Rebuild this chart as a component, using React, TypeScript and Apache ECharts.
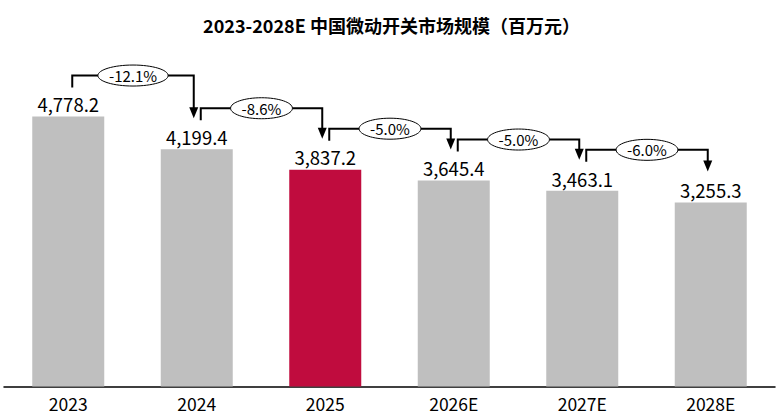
import React, { useEffect, useRef } from "react";
import * as echarts from "echarts";

const categories = ["2023", "2024", "2025", "2026E", "2027E", "2028E"];
const marketSize = [4778.2, 4199.4, 3837.2, 3645.4, 3463.1, 3255.3];
const growthLabels = ["-12.1%", "-8.6%", "-5.0%", "-5.0%", "-6.0%"];
const highlightIndex = 2;

const FONT = '"Noto Sans CJK SC", "Noto Sans", sans-serif';
const GRAY = "#BFBFBF";
const RED = "#C00C3E";

function measure(text: string, font: string): number {
  const ctx = document.createElement("canvas").getContext("2d");
  if (!ctx) return text.length * 8;
  ctx.font = font;
  return ctx.measureText(text).width;
}

export default function App() {
  const ref = useRef<HTMLDivElement>(null);

  useEffect(() => {
    if (!ref.current) return;
    const chart = echarts.init(ref.current, undefined, { renderer: "svg" });

    const arrowData = growthLabels.map((_, i) => [i, marketSize[i], i + 1, marketSize[i + 1]]);

    const option: any = {
      animation: false,
      backgroundColor: "#fff",
      title: {
        text: "2023-2028E 中国微动开关市场规模（百万元）",
        left: "center",
        top: 11,
        textStyle: { fontFamily: FONT, fontSize: 18, fontWeight: "bold", color: "#000" },
      },
      grid: { left: 4, right: 8, top: 47.5, bottom: 30.5 },
      xAxis: {
        type: "category",
        data: categories,
        axisTick: { show: false },
        axisLine: { lineStyle: { color: "#000", width: 1.5 } },
        axisLabel: { fontFamily: FONT, fontSize: 17.5, color: "#000", margin: 8 },
      },
      yAxis: { type: "value", min: 0, max: 6000, show: false, splitLine: { show: false } },
      series: [
        {
          type: "bar",
          barWidth: 72,
          data: marketSize.map((v, i) => ({
            value: v,
            itemStyle: { color: i === highlightIndex ? RED : GRAY },
          })),
          label: {
            show: true,
            position: "top",
            distance: 3,
            fontFamily: FONT,
            fontSize: 18.5,
            color: "#000",
            formatter: (p: any) =>
              Number(p.value).toLocaleString("en-US", { minimumFractionDigits: 1, maximumFractionDigits: 1 }),
          },
        },
        {
          type: "custom",
          data: arrowData,
          z: 5,
          renderItem: (params: any, api: any) => {
            const i = params.dataIndex;
            const p0 = api.coord([api.value(0), api.value(1)]);
            const p1 = api.coord([api.value(2), api.value(3)]);
            const startX = p0[0] + 4;
            const endX = p1[0] - 3;
            const startBottom = p0[1] - 29;
            const horizY = p0[1] - 41;
            const tipY = p1[1] - 31;
            const headH = 11;
            const headW = 4.5;
            const txt = growthLabels[i];
            const tw = measure(txt, `15px ${FONT}`);
            const cx = (startX + endX) / 2;
            const lineStyle = { stroke: "#000", lineWidth: 2, fill: null };
            return {
              type: "group",
              children: [
                {
                  type: "polyline",
                  shape: {
                    points: [
                      [startX, startBottom],
                      [startX, horizY],
                      [endX, horizY],
                      [endX, tipY - headH + 1],
                    ],
                  },
                  style: lineStyle,
                },
                {
                  type: "polygon",
                  shape: {
                    points: [
                      [endX - headW, tipY - headH],
                      [endX + headW, tipY - headH],
                      [endX, tipY],
                    ],
                  },
                  style: { fill: "#000" },
                },
                {
                  type: "ellipse",
                  shape: { cx, cy: horizY, rx: tw / 2 + 11, ry: 10.5 },
                  style: { fill: "#fff", stroke: "#000", lineWidth: 1 },
                },
                {
                  type: "text",
                  x: cx,
                  y: horizY,
                  style: {
                    text: txt,
                    align: "center",
                    verticalAlign: "middle",
                    fontFamily: FONT,
                    fontSize: 15,
                    fill: "#000",
                  },
                },
              ],
            };
          },
        },
      ],
    };

    chart.setOption(option);
    return () => chart.dispose();
  }, []);

  return (
    <div
      ref={ref}
      style={{ position: "absolute", left: 0, top: 0, width: 783, height: 417, background: "#fff" }}
    />
  );
}
